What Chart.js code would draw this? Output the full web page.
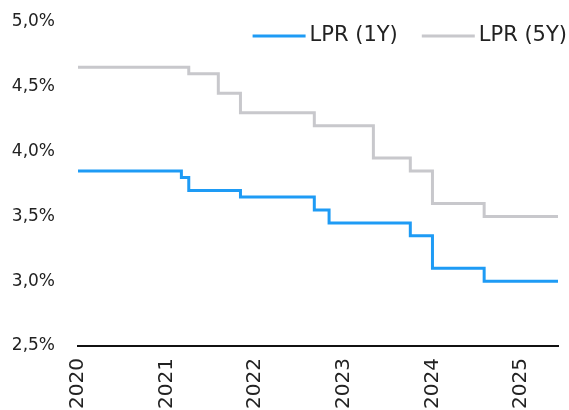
<!DOCTYPE html>
<html>
<head>
<meta charset="utf-8">
<script src="https://cdn.jsdelivr.net/npm/chart.js@4"></script>
<style>
  body { margin: 0; background: #fff; }
  canvas { display: block; }
</style>
</head>
<body>
<canvas id="lpr" width="569" height="410"></canvas>
<script>
// monthly observations, Oct 2020 - Mar 2026
var months = [
    '2020-10','2020-11','2020-12',
    '2021-01','2021-02','2021-03','2021-04','2021-05','2021-06','2021-07','2021-08','2021-09','2021-10','2021-11','2021-12',
    '2022-01','2022-02','2022-03','2022-04','2022-05','2022-06','2022-07','2022-08','2022-09','2022-10','2022-11','2022-12',
    '2023-01','2023-02','2023-03','2023-04','2023-05','2023-06','2023-07','2023-08','2023-09','2023-10','2023-11','2023-12',
    '2024-01','2024-02','2024-03','2024-04','2024-05','2024-06','2024-07','2024-08','2024-09','2024-10','2024-11','2024-12',
    '2025-01','2025-02','2025-03','2025-04','2025-05','2025-06','2025-07','2025-08','2025-09','2025-10','2025-11','2025-12',
    '2026-01','2026-02','2026-03'
];
var yearLabels = ['2020', '2021', '2022', '2023', '2024', '2025'];

var lpr1y = [
    3.85,3.85,3.85,3.85,3.85,3.85,3.85,3.85,3.85,3.85,3.85,3.85,3.85,3.85,
    3.80,
    3.70,3.70,3.70,3.70,3.70,3.70,3.70,
    3.65,3.65,3.65,3.65,3.65,3.65,3.65,3.65,3.65,3.65,
    3.55,3.55,
    3.45,3.45,3.45,3.45,3.45,3.45,3.45,3.45,3.45,3.45,3.45,
    3.35,3.35,3.35,
    3.10,3.10,3.10,3.10,3.10,3.10,3.10,
    3.00,3.00,3.00,3.00,3.00,3.00,3.00,3.00,3.00,3.00,3.00
];
var lpr5y = [
    4.65,4.65,4.65,4.65,4.65,4.65,4.65,4.65,4.65,4.65,4.65,4.65,4.65,4.65,4.65,
    4.60,4.60,4.60,4.60,
    4.45,4.45,4.45,
    4.30,4.30,4.30,4.30,4.30,4.30,4.30,4.30,4.30,4.30,
    4.20,4.20,4.20,4.20,4.20,4.20,4.20,4.20,
    3.95,3.95,3.95,3.95,3.95,
    3.85,3.85,3.85,
    3.60,3.60,3.60,3.60,3.60,3.60,3.60,
    3.50,3.50,3.50,3.50,3.50,3.50,3.50,3.50,3.50,3.50,3.50
];

var blue = 'rgb(30, 155, 245)';
var grey = 'rgb(200, 200, 204)';
var textColor = '#222';

// legend drawn by hand so it can sit inside the plot, top right
var lineLegend = {
    id: 'lineLegend',
    afterDraw: function (chart) {
        var c = chart.ctx;
        var sets = chart.data.datasets;
        var x = 567, y = 36;
        c.save();
        c.font = '21px "DejaVu Sans"';
        c.textBaseline = 'middle';
        c.textAlign = 'left';
        for (var i = sets.length - 1; i >= 0; i--) {
            var w = c.measureText(sets[i].label).width;
            x -= w;
            c.fillStyle = textColor;
            c.fillText(sets[i].label, x, y);
            x -= 4;
            c.strokeStyle = sets[i].borderColor;
            c.lineWidth = 3;
            c.beginPath();
            c.moveTo(x - 53, y);
            c.lineTo(x, y);
            c.stroke();
            x -= 53 + 24;
        }
        c.restore();
    }
};

function noPad(s) {
    s.paddingTop = 0;
    s.paddingBottom = 0;
    s.paddingLeft = 0;
    s.paddingRight = 0;
}

var ctx = document.getElementById('lpr').getContext('2d');
var chart = new Chart(ctx, {
    type: 'line',
    data: {
        labels: months,
        datasets: [{
            label: 'LPR (1Y)',
            data: lpr1y,
            borderColor: blue,
            borderWidth: 3,
            stepped: true,
            pointRadius: 0,
            fill: false
        }, {
            label: 'LPR (5Y)',
            data: lpr5y,
            borderColor: grey,
            borderWidth: 3,
            stepped: true,
            pointRadius: 0,
            fill: false
        }]
    },
    options: {
        responsive: false,
        animation: false,
        layout: { padding: { top: 22, right: 11, left: 0, bottom: 0 } },
        plugins: {
            legend: { display: false },
            tooltip: { enabled: false }
        },
        scales: {
            x: {
                offset: false,
                grid: { display: false, drawTicks: false },
                border: { display: true, color: '#111', width: 2 },
                ticks: {
                    autoSkip: false,
                    minRotation: 90,
                    maxRotation: 90,
                    padding: 12,
                    color: textColor,
                    font: { family: 'DejaVu Sans', size: 20 },
                    callback: function (v, i) {
                        return i % 12 === 0 ? yearLabels[i / 12] : '';
                    }
                },
                afterFit: function (s) { s.height = 64; noPad(s); }
            },
            y: {
                min: 2.5,
                max: 5,
                grid: { display: false, drawTicks: false },
                border: { display: false },
                ticks: {
                    stepSize: 0.5,
                    padding: 23,
                    color: textColor,
                    font: { family: 'DejaVu Sans', size: 17 },
                    callback: function (v) {
                        return v.toFixed(1).replace('.', ',') + '%';
                    }
                },
                afterFit: function (s) { s.width = 78; noPad(s); }
            }
        }
    },
    plugins: [lineLegend]
});
</script>
</body>
</html>
